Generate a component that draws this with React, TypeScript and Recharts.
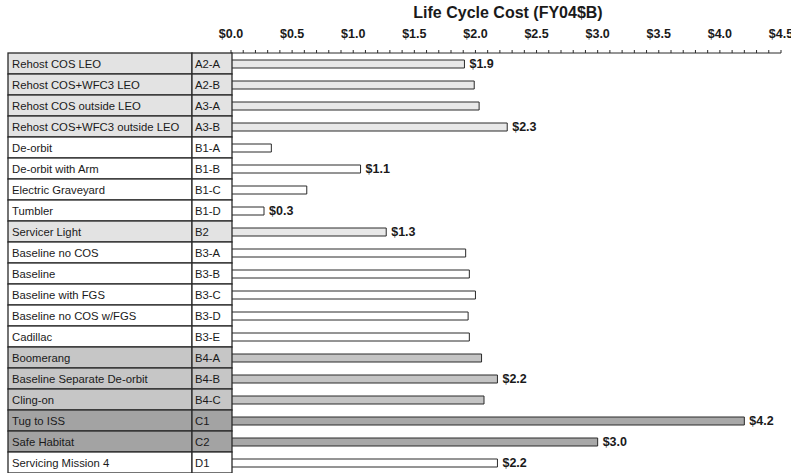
import React from 'react';
import { BarChart, Bar, XAxis, YAxis, Cell, LabelList } from 'recharts';

const names = [
  'Rehost COS LEO',
  'Rehost COS+WFC3 LEO',
  'Rehost COS outside LEO',
  'Rehost COS+WFC3 outside LEO',
  'De-orbit',
  'De-orbit with Arm',
  'Electric Graveyard',
  'Tumbler',
  'Servicer Light',
  'Baseline no COS',
  'Baseline',
  'Baseline with FGS',
  'Baseline no COS w/FGS',
  'Cadillac',
  'Boomerang',
  'Baseline Separate De-orbit',
  'Cling-on',
  'Tug to ISS',
  'Safe Habitat',
  'Servicing Mission 4',
];

const codes = [
  'A2-A', 'A2-B', 'A3-A', 'A3-B', 'B1-A', 'B1-B', 'B1-C', 'B1-D', 'B2', 'B3-A',
  'B3-B', 'B3-C', 'B3-D', 'B3-E', 'B4-A', 'B4-B', 'B4-C', 'C1', 'C2', 'D1',
];

const costs = [
  1.91, 1.99, 2.03, 2.26, 0.33, 1.06, 0.62, 0.27, 1.27, 1.92,
  1.95, 2.0, 1.94, 1.95, 2.05, 2.18, 2.07, 4.2, 3.0, 2.18,
];

const valueLabels = [
  '$1.9', '', '', '$2.3', '', '$1.1', '', '$0.3', '$1.3', '',
  '', '', '', '', '', '$2.2', '', '$4.2', '$3.0', '$2.2',
];

const groups = [
  'light', 'light', 'light', 'light', 'white', 'white', 'white', 'white', 'light', 'white',
  'white', 'white', 'white', 'white', 'mid', 'mid', 'mid', 'dark', 'dark', 'white',
];

const axisTicks = [
  0, 0.1, 0.2, 0.3, 0.4, 0.5, 0.6, 0.7, 0.8, 0.9,
  1.0, 1.1, 1.2, 1.3, 1.4, 1.5, 1.6, 1.7, 1.8, 1.9,
  2.0, 2.1, 2.2, 2.3, 2.4, 2.5, 2.6, 2.7, 2.8, 2.9,
  3.0, 3.1, 3.2, 3.3, 3.4, 3.5, 3.6, 3.7, 3.8, 3.9,
  4.0, 4.1, 4.2, 4.3, 4.4, 4.5,
];

const majorTickLabels = ['$0.0', '$0.5', '$1.0', '$1.5', '$2.0', '$2.5', '$3.0', '$3.5', '$4.0', '$4.5'];

const rowFill: Record<string, string> = {
  light: '#e3e3e3',
  white: '#ffffff',
  mid: '#c6c6c6',
  dark: '#a3a3a3',
};
const barFill: Record<string, string> = {
  light: '#e8e8e8',
  white: '#ffffff',
  mid: '#c4c4c4',
  dark: '#a8a8a8',
};

const rows = names.map((name, i) => ({
  name,
  code: codes[i],
  cost: costs[i],
  label: valueLabels[i],
  group: groups[i],
}));

const FONT = '"Liberation Sans", Arial, Helvetica, sans-serif';
const ROW_H = 21;
const TABLE_LEFT = 8;
const COL_DIV = 192;
const TABLE_RIGHT = 232;

const TableTick = (props: any) => {
  const { y, payload, index } = props;
  const row = rows[index] ?? rows.find((r) => r.code === payload.value);
  const top = y - ROW_H / 2;
  const fill = rowFill[row.group];
  return (
    <g>
      <rect x={TABLE_LEFT} y={top} width={COL_DIV - TABLE_LEFT} height={ROW_H} fill={fill} stroke="#2a2a2a" strokeWidth={1.3} />
      <rect x={COL_DIV} y={top} width={TABLE_RIGHT - COL_DIV} height={ROW_H} fill={fill} stroke="#2a2a2a" strokeWidth={1.3} />
      <text x={TABLE_LEFT + 4} y={y + 4} fontSize={11.3} fontFamily={FONT} fill="#1a1a1a">
        {row.name}
      </text>
      <text x={COL_DIV + 3} y={y + 4} fontSize={11.3} fontFamily={FONT} fill="#1a1a1a">
        {row.code}
      </text>
    </g>
  );
};

const TopTick = (props: any) => {
  const { x, y, payload } = props;
  const v = Number(payload.value);
  const idx = Math.round(v * 10);
  if (idx % 5 !== 0) return <g />;
  const label = majorTickLabels[idx / 5];
  return (
    <text x={x} y={y - 10} textAnchor="middle" fontSize={12.5} fontWeight="bold" fontFamily={FONT} fill="#1a1a1a">
      {label}
    </text>
  );
};

export default function App() {
  return (
    <div style={{ position: 'absolute', left: 0, top: 0, width: 791, height: 473, background: '#fff', overflow: 'hidden' }}>
      <div
        style={{
          position: 'absolute',
          left: 358,
          top: 4,
          width: 300,
          textAlign: 'center',
          fontFamily: FONT,
          fontWeight: 'bold',
          fontSize: 16,
          color: '#1a1a1a',
        }}
      >
        Life Cycle Cost (FY04$B)
      </div>
      <BarChart
        width={791}
        height={473}
        data={rows}
        layout="vertical"
        margin={{ top: 22, right: 10, bottom: 0, left: 0 }}
        barSize={8}
      >
        <XAxis
          type="number"
          orientation="top"
          domain={[0, 4.5]}
          ticks={axisTicks}
          interval={0}
          height={31}
          tickSize={3}
          tick={<TopTick />}
          axisLine={{ stroke: '#2a2a2a', strokeWidth: 1 }}
          tickLine={{ stroke: '#2a2a2a', strokeWidth: 1 }}
        />
        <YAxis
          type="category"
          dataKey="code"
          width={231}
          interval={0}
          tickLine={false}
          axisLine={{ stroke: '#2a2a2a', strokeWidth: 1.3 }}
          tick={<TableTick />}
        />
        <YAxis
          yAxisId="right"
          type="category"
          dataKey="code"
          orientation="right"
          width={0}
          tick={false}
          tickLine={false}
          axisLine={{ stroke: '#2a2a2a', strokeWidth: 1 }}
        />
        <Bar dataKey="cost" isAnimationActive={false} stroke="#2a2a2a" strokeWidth={1}>
          {rows.map((r, i) => (
            <Cell key={i} fill={barFill[r.group]} />
          ))}
          <LabelList
            dataKey="label"
            position="right"
            offset={5}
            fontSize={12.5}
            fontWeight="bold"
            fontFamily={FONT}
            fill="#1a1a1a"
          />
        </Bar>
      </BarChart>
    </div>
  );
}
